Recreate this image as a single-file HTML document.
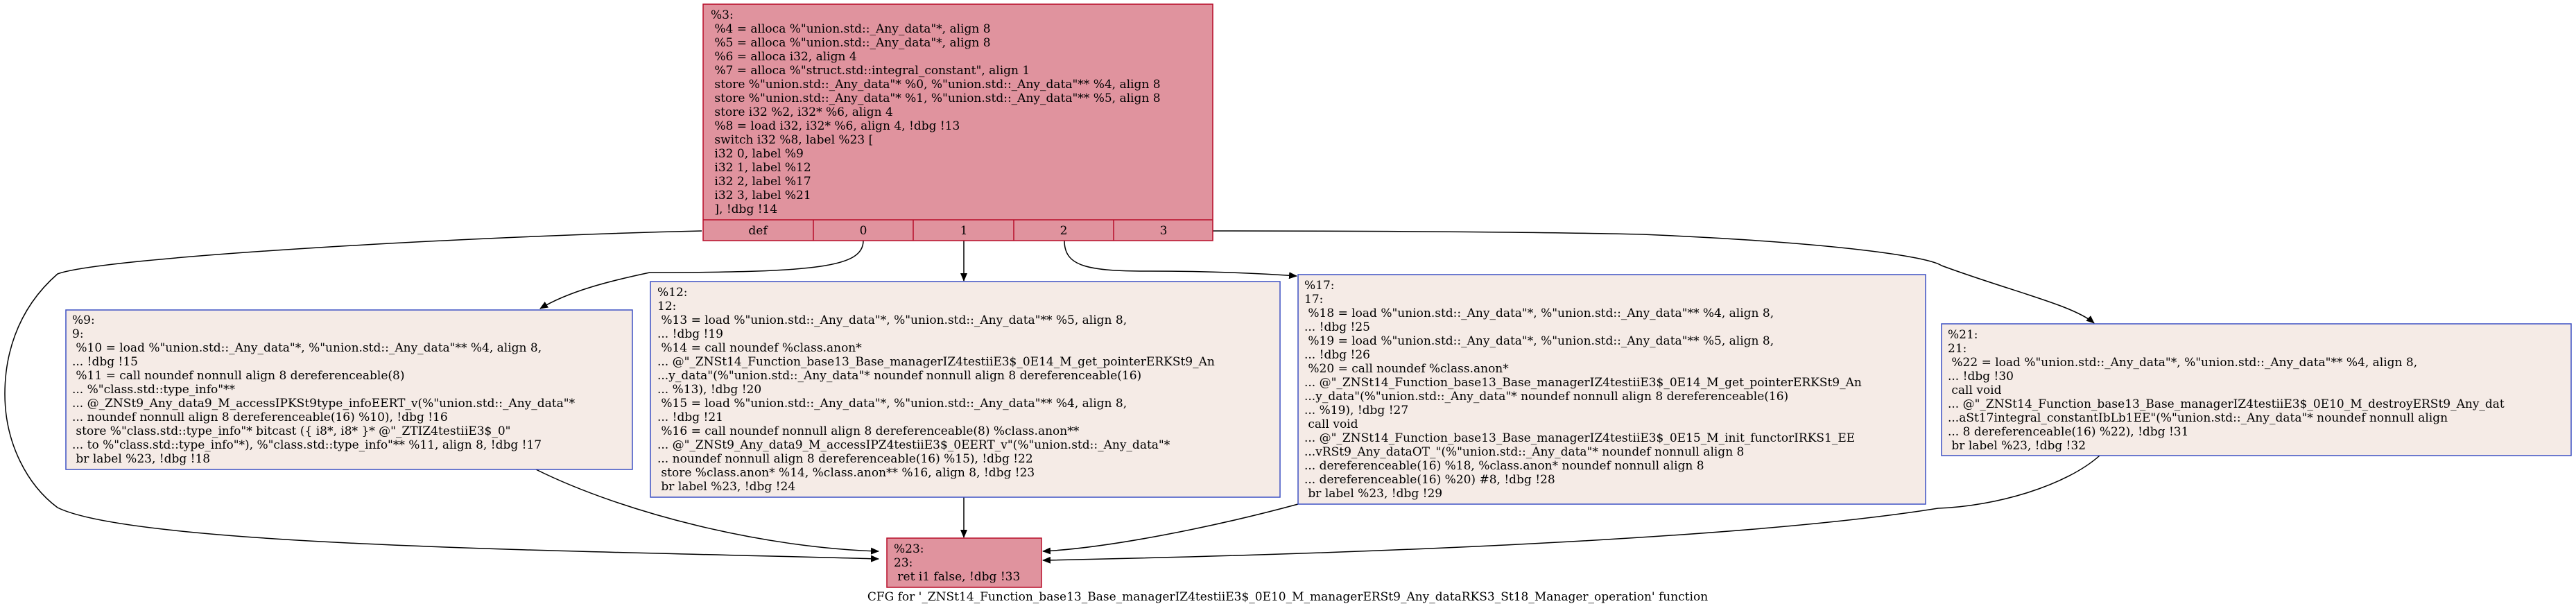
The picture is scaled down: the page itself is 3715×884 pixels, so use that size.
<!DOCTYPE html>
<html><head><meta charset="utf-8"><style>
html,body{margin:0;padding:0;background:#fff;width:3715px;height:884px;overflow:hidden}
svg{display:block}
text{font-family:"DejaVu Serif","Liberation Serif",serif;font-size:17px;fill:#000;white-space:pre}
</style></head><body>
<svg width="3715" height="884" viewBox="0 0 3715 884" xmlns="http://www.w3.org/2000/svg">
<defs><marker id="a" markerWidth="12" markerHeight="10" refX="11" refY="5" orient="auto" markerUnits="userSpaceOnUse"><path d="M0,0 L12,5 L0,10 z" fill="#000"/></marker></defs>
<g fill="none" stroke="#000" stroke-width="1.5">
<path d="M1012,333 C700,340 150,370 83,395 C20,450 7,520 7,568 C7,640 40,700 83,732 C200,790 900,795 1267,806" marker-end="url(#a)"/>
<path d="M1245,347 C1245,385 1180,393 937,393 C880,405 820,420 779,445" marker-end="url(#a)"/>
<path d="M1390,347 L1390,405" marker-end="url(#a)"/>
<path d="M1535,347 C1535,385 1570,391 1658,391 C1720,391 1800,393 1870,398" marker-end="url(#a)"/>
<path d="M1749,333 C2000,333 2250,335 2369,338 C2650,350 2780,370 2800,383 C2900,420 2990,440 3020,466" marker-end="url(#a)"/>
<path d="M773,677 C900,740 1100,790 1267,795" marker-end="url(#a)"/>
<path d="M1390,717 L1390,775" marker-end="url(#a)"/>
<path d="M1872,727 C1750,760 1600,790 1504,795" marker-end="url(#a)"/>
<path d="M3028,657 C2980,700 2880,730 2795,733 C2500,780 1900,800 1504,808" marker-end="url(#a)"/>
</g>
<g stroke-width="1.5">
<rect x="1014" y="6" width="735" height="341" fill="#e0939e" stroke="#b70d28"/>
<line x1="1014" y1="317" x2="1749" y2="317" stroke="#b70d28"/>
<line x1="1173" y1="317" x2="1173" y2="347" stroke="#b70d28"/>
<line x1="1317" y1="317" x2="1317" y2="347" stroke="#b70d28"/>
<line x1="1462" y1="317" x2="1462" y2="347" stroke="#b70d28"/>
<line x1="1606" y1="317" x2="1606" y2="347" stroke="#b70d28"/>
<rect x="95" y="447" width="817" height="230" fill="#f5ebe6" stroke="#3d50c3"/>
<rect x="938" y="406" width="908" height="311" fill="#f5ebe6" stroke="#3d50c3"/>
<rect x="1872" y="396" width="905" height="331" fill="#f5ebe6" stroke="#3d50c3"/>
<rect x="2800" y="467" width="908" height="190" fill="#f5ebe6" stroke="#3d50c3"/>
<rect x="1279" y="776" width="223" height="71" fill="#e0939e" stroke="#b70d28"/>
</g>
<text x="1025" y="27">%3:<tspan x="1025" dy="20"> %4 = alloca %"union.std::_Any_data"*, align 8</tspan><tspan x="1025" dy="20"> %5 = alloca %"union.std::_Any_data"*, align 8</tspan><tspan x="1025" dy="20"> %6 = alloca i32, align 4</tspan><tspan x="1025" dy="20"> %7 = alloca %"struct.std::integral_constant", align 1</tspan><tspan x="1025" dy="20"> store %"union.std::_Any_data"* %0, %"union.std::_Any_data"** %4, align 8</tspan><tspan x="1025" dy="20"> store %"union.std::_Any_data"* %1, %"union.std::_Any_data"** %5, align 8</tspan><tspan x="1025" dy="20"> store i32 %2, i32* %6, align 4</tspan><tspan x="1025" dy="20"> %8 = load i32, i32* %6, align 4, !dbg !13</tspan><tspan x="1025" dy="20"> switch i32 %8, label %23 [</tspan><tspan x="1025" dy="20"> i32 0, label %9</tspan><tspan x="1025" dy="20"> i32 1, label %12</tspan><tspan x="1025" dy="20"> i32 2, label %17</tspan><tspan x="1025" dy="20"> i32 3, label %21</tspan><tspan x="1025" dy="20"> ], !dbg !14</tspan></text>
<g text-anchor="middle"><text x="1093" y="338">def</text><text x="1245" y="338">0</text><text x="1390" y="338">1</text><text x="1534" y="338">2</text><text x="1678" y="338">3</text></g>
<text x="104" y="467">%9:<tspan x="104" dy="20">9:</tspan><tspan x="104" dy="20"> %10 = load %"union.std::_Any_data"*, %"union.std::_Any_data"** %4, align 8,</tspan><tspan x="104" dy="20">... !dbg !15</tspan><tspan x="104" dy="20"> %11 = call noundef nonnull align 8 dereferenceable(8)</tspan><tspan x="104" dy="20">... %"class.std::type_info"**</tspan><tspan x="104" dy="20">... @_ZNSt9_Any_data9_M_accessIPKSt9type_infoEERT_v(%"union.std::_Any_data"*</tspan><tspan x="104" dy="20">... noundef nonnull align 8 dereferenceable(16) %10), !dbg !16</tspan><tspan x="104" dy="20"> store %"class.std::type_info"* bitcast ({ i8*, i8* }* @"_ZTIZ4testiiE3$_0"</tspan><tspan x="104" dy="20">... to %"class.std::type_info"*), %"class.std::type_info"** %11, align 8, !dbg !17</tspan><tspan x="104" dy="20"> br label %23, !dbg !18</tspan></text>
<text x="948" y="427">%12:<tspan x="948" dy="20">12:</tspan><tspan x="948" dy="20"> %13 = load %"union.std::_Any_data"*, %"union.std::_Any_data"** %5, align 8,</tspan><tspan x="948" dy="20">... !dbg !19</tspan><tspan x="948" dy="20"> %14 = call noundef %class.anon*</tspan><tspan x="948" dy="20">... @"_ZNSt14_Function_base13_Base_managerIZ4testiiE3$_0E14_M_get_pointerERKSt9_An</tspan><tspan x="948" dy="20">...y_data"(%"union.std::_Any_data"* noundef nonnull align 8 dereferenceable(16)</tspan><tspan x="948" dy="20">... %13), !dbg !20</tspan><tspan x="948" dy="20"> %15 = load %"union.std::_Any_data"*, %"union.std::_Any_data"** %4, align 8,</tspan><tspan x="948" dy="20">... !dbg !21</tspan><tspan x="948" dy="20"> %16 = call noundef nonnull align 8 dereferenceable(8) %class.anon**</tspan><tspan x="948" dy="20">... @"_ZNSt9_Any_data9_M_accessIPZ4testiiE3$_0EERT_v"(%"union.std::_Any_data"*</tspan><tspan x="948" dy="20">... noundef nonnull align 8 dereferenceable(16) %15), !dbg !22</tspan><tspan x="948" dy="20"> store %class.anon* %14, %class.anon** %16, align 8, !dbg !23</tspan><tspan x="948" dy="20"> br label %23, !dbg !24</tspan></text>
<text x="1881" y="417">%17:<tspan x="1881" dy="20">17:</tspan><tspan x="1881" dy="20"> %18 = load %"union.std::_Any_data"*, %"union.std::_Any_data"** %4, align 8,</tspan><tspan x="1881" dy="20">... !dbg !25</tspan><tspan x="1881" dy="20"> %19 = load %"union.std::_Any_data"*, %"union.std::_Any_data"** %5, align 8,</tspan><tspan x="1881" dy="20">... !dbg !26</tspan><tspan x="1881" dy="20"> %20 = call noundef %class.anon*</tspan><tspan x="1881" dy="20">... @"_ZNSt14_Function_base13_Base_managerIZ4testiiE3$_0E14_M_get_pointerERKSt9_An</tspan><tspan x="1881" dy="20">...y_data"(%"union.std::_Any_data"* noundef nonnull align 8 dereferenceable(16)</tspan><tspan x="1881" dy="20">... %19), !dbg !27</tspan><tspan x="1881" dy="20"> call void</tspan><tspan x="1881" dy="20">... @"_ZNSt14_Function_base13_Base_managerIZ4testiiE3$_0E15_M_init_functorIRKS1_EE</tspan><tspan x="1881" dy="20">...vRSt9_Any_dataOT_"(%"union.std::_Any_data"* noundef nonnull align 8</tspan><tspan x="1881" dy="20">... dereferenceable(16) %18, %class.anon* noundef nonnull align 8</tspan><tspan x="1881" dy="20">... dereferenceable(16) %20) #8, !dbg !28</tspan><tspan x="1881" dy="20"> br label %23, !dbg !29</tspan></text>
<text x="2809" y="488">%21:<tspan x="2809" dy="20">21:</tspan><tspan x="2809" dy="20"> %22 = load %"union.std::_Any_data"*, %"union.std::_Any_data"** %4, align 8,</tspan><tspan x="2809" dy="20">... !dbg !30</tspan><tspan x="2809" dy="20"> call void</tspan><tspan x="2809" dy="20">... @"_ZNSt14_Function_base13_Base_managerIZ4testiiE3$_0E10_M_destroyERSt9_Any_dat</tspan><tspan x="2809" dy="20">...aSt17integral_constantIbLb1EE"(%"union.std::_Any_data"* noundef nonnull align</tspan><tspan x="2809" dy="20">... 8 dereferenceable(16) %22), !dbg !31</tspan><tspan x="2809" dy="20"> br label %23, !dbg !32</tspan></text>
<text x="1289" y="797">%23:<tspan x="1289" dy="20">23:</tspan><tspan x="1289" dy="20"> ret i1 false, !dbg !33</tspan></text>
<text x="1857" y="866" text-anchor="middle">CFG for '_ZNSt14_Function_base13_Base_managerIZ4testiiE3$_0E10_M_managerERSt9_Any_dataRKS3_St18_Manager_operation' function</text>
</svg>
</body></html>
